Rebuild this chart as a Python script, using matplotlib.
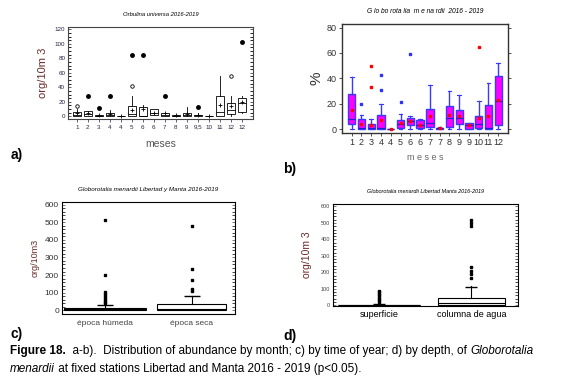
import matplotlib
matplotlib.use("Agg")
import matplotlib.pyplot as plt

plt.rcParams['font.family'] = ['Liberation Sans', 'DejaVu Sans']

# ---- panel a: Orbulina universa by month (org/10m3)
a_labels = ['1', '2', '3', '4', '4', '5', '6', '6', '7', '8', '9', '9,5', '10', '11', '12', '12']
a_lo   = [0, 0, 0, 0, 0, 0, 0, 2, 0, 0, 0, 0, 0, 0, 0, 4]
a_q1   = [0, 0, 0, 0, 0, 0, 0, 2, 0, 0, 0, 0, 0, 0, 3, 6]
a_med  = [2, 3, 0, 2, 0, 3, 0, 5, 2, 0.5, 2, 1, 0, 6, 8, 18]
a_q3   = [6, 7, 1, 5, 0, 14, 13, 10, 4, 1, 5, 2, 0, 28, 18, 25]
a_hi   = [10, 7, 1, 8, 0, 28, 16, 10, 5, 1, 13, 5, 0, 56, 28, 28]
a_mean = [4, 4, 1, 3, 0, 9, 10, 5, 4, 1, 3, 2, 0, 15, 14, 20]
a_fl   = [[], [28], [11], [28], [], [85], [85], [], [28], [], [], [13], [], [], [], [103]]
a_open = [[14], [], [], [], [], [42], [], [], [], [], [], [], [], [], [56], []]

# ---- panel b: Globorotalia menardii by month (%)
b_labels = ['1', '2', '3', '4', '4', '5', '6', '6', '7', '7', '8', '9', '9', '10', '11', '12']
b_lo   = [0, 0, 0, 0, 0, 0, 0, 0, 0, 0, 0, 0, 0, 0, 0, 0]
b_q1   = [4, 0, 0, 0, 0, 1, 3, 1, 2, 0, 2, 4, 0, 1, 0, 3]
b_med  = [8, 0.5, 1, 1, 0, 4, 6, 3, 5, 1, 9, 9, 3, 4, 1, 22]
b_q3   = [28, 8, 4, 11, 0, 7, 9, 7, 16, 1, 18, 15, 5, 10, 19, 42]
b_hi   = [41, 11, 8, 20, 0, 12, 10, 8, 35, 2, 30, 27, 5, 22, 36, 52]
b_mean = [15, 4, 3, 7, 0, 5, 6, 3, 10, 1, 11, 10, 3, 9, 10, 23]
b_fl   = [[], [20], [], [31, 43], [], [21], [59], [], [], [], [], [], [], [], [], []]
b_red  = [[], [], [33, 50], [], [], [], [], [], [], [], [], [], [], [65], [], []]

# ---- panel c: by time of year (org/10m3)
c_labels = ['época húmeda', 'época seca']
c_lo   = [0, 0]
c_q1   = [0, 0]
c_med  = [5, 10]
c_q3   = [14, 35]
c_hi   = [22, 83]
c_mean = [30, 80]
c_fl   = [[40, 50, 60, 70, 80, 90, 105, 200, 510], [110, 120, 170, 235, 480]]

# ---- panel d: by depth (org/10m3)
d_labels = ['superficie', 'columna de agua']
d_lo   = [0, 0]
d_q1   = [0, 0]
d_med  = [3, 12]
d_q3   = [5, 46]
d_hi   = [12, 120]
d_mean = [10, 110]
d_fl   = [[20, 30, 40, 50, 60, 70, 80, 90], [165, 190, 210, 235, 480, 500, 520]]


def box_stats(lo, q1, med, q3, hi, mean, fl):
    return [dict(whislo=lo[i], q1=q1[i], med=med[i], q3=q3[i], whishi=hi[i],
                 mean=mean[i], fliers=fl[i]) for i in range(len(lo))]


fig = plt.figure(figsize=(5.67, 3.83), dpi=100)

# ---------------- a)
ax = fig.add_axes([0.120, 0.689, 0.326, 0.240])
pos = list(range(1, len(a_labels) + 1))
ax.bxp(box_stats(a_lo, a_q1, a_med, a_q3, a_hi, a_mean, a_fl), positions=pos, widths=0.75,
       patch_artist=True, showmeans=True, showcaps=False,
       boxprops=dict(facecolor='white', edgecolor='black', linewidth=0.6),
       medianprops=dict(color='black', linewidth=0.6),
       whiskerprops=dict(color='black', linewidth=0.6),
       meanprops=dict(marker='+', markeredgecolor='black', markersize=3, markeredgewidth=0.6),
       flierprops=dict(marker='o', markerfacecolor='black', markeredgecolor='black', markersize=2.5))
for i, vals in enumerate(a_open):
    ax.plot([pos[i]] * len(vals), vals, 'o', mfc='white', mec='black', ms=2.5, mew=0.6)
ax.set_xlim(0.2, 17)
ax.set_ylim(-4, 123)
ax.set_yticks(range(0, 121, 20))
ax.set_xticks(pos)
ax.set_xticklabels(a_labels)
ax.tick_params(labelsize=4.5, length=2, width=0.5, colors='#222244', direction='out', pad=2)
ax.tick_params(axis='y', which='both', right=True, direction='in')
ax.minorticks_on()
ax.tick_params(axis='x', which='minor', bottom=False)
for s in ax.spines.values():
    s.set_linewidth(0.8)
    s.set_color('#444444')
ax.set_title('Orbulina universa 2016-2019', fontsize=4.2, style='italic', pad=8)
ax.set_ylabel('org/10m 3', fontsize=8, color='#6b2a2a', labelpad=5)
ax.set_xlabel('meses', fontsize=7.5, color='#555555', labelpad=7)
fig.text(0.018, 0.585, 'a)', fontsize=10, fontweight='bold')

# ---------------- b)
ax = fig.add_axes([0.603, 0.653, 0.293, 0.285])
pos = list(range(1, len(b_labels) + 1))
ax.bxp(box_stats(b_lo, b_q1, b_med, b_q3, b_hi, b_mean, b_fl), positions=pos, widths=0.75,
       patch_artist=True, showmeans=True, showcaps=True,
       boxprops=dict(facecolor='#ff00ff', edgecolor='#3a3aff', linewidth=1.0),
       medianprops=dict(color='#2020d0', linewidth=0.9),
       whiskerprops=dict(color='#3a3aff', linewidth=1.0),
       capprops=dict(color='#3a3aff', linewidth=0.8),
       meanprops=dict(marker='s', markerfacecolor='red', markeredgecolor='red', markersize=1.5),
       flierprops=dict(marker='s', markerfacecolor='#3030ff', markeredgecolor='#3030ff', markersize=1.8))
for i, vals in enumerate(b_red):
    ax.plot([pos[i]] * len(vals), vals, 's', mfc='red', mec='red', ms=1.6)
ax.set_xlim(0, 17)
ax.set_ylim(-3, 83)
ax.set_yticks(range(0, 81, 20))
ax.set_xticks(pos)
ax.set_xticklabels(b_labels)
ax.tick_params(labelsize=6.5, length=2, width=0.6, colors='#333333', pad=2)
ax.tick_params(axis='y', right=True)
for s in ax.spines.values():
    s.set_linewidth(1.0)
    s.set_color('#333333')
ax.set_title('G lo bo rota lia  m e na rdii  2016 - 2019', fontsize=4.8, style='italic', pad=8)
ax.set_ylabel('%', fontsize=11, color='#333333', labelpad=2)
ax.set_xlabel('m e s e s', fontsize=6.5, color='#666666', labelpad=4)
fig.text(0.500, 0.548, 'b)', fontsize=10, fontweight='bold')

# ---------------- c)
ax = fig.add_axes([0.109, 0.180, 0.305, 0.292])
ax.bxp(box_stats(c_lo, c_q1, c_med, c_q3, c_hi, c_mean, c_fl), positions=[1, 2], widths=[0.95, 0.8],
       patch_artist=True, showmeans=True, showcaps=False,
       boxprops=dict(edgecolor='black', linewidth=0.8),
       medianprops=dict(color='black', linewidth=0.8),
       whiskerprops=dict(color='black', linewidth=0.8),
       meanprops=dict(marker='_', markeredgecolor='black', markersize=11, markeredgewidth=1.0),
       flierprops=dict(marker='s', markerfacecolor='black', markeredgecolor='black', markersize=1.8))
ax.patches[0].set_facecolor('#d9d9d9')
ax.patches[1].set_facecolor('white')
ax.set_xlim(0.5, 2.5)
ax.set_ylim(-21, 613)
ax.set_yticks(range(0, 601, 100))
ax.set_xticks([1, 2])
ax.set_xticklabels(c_labels)
ax.tick_params(labelsize=6, colors='#444444', pad=2)
ax.tick_params(axis='x', length=0, pad=4)
ax.tick_params(axis='y', which='both', right=True, direction='in', length=2.5, width=0.5, labelcolor='#333333')
ax.minorticks_on()
ax.tick_params(axis='x', which='minor', bottom=False)
for s in ax.spines.values():
    s.set_linewidth(0.8)
ax.set_title('Globorotalia menardii Libertad y Manta 2016-2019', fontsize=4.5, style='italic', pad=8)
ax.set_ylabel('org/10m3', fontsize=6.5, color='#6b2a2a', labelpad=4)
fig.text(0.018, 0.118, 'c)', fontsize=10, fontweight='bold')

# ---------------- d)
ax = fig.add_axes([0.587, 0.201, 0.326, 0.266])
ax.bxp(box_stats(d_lo, d_q1, d_med, d_q3, d_hi, d_mean, d_fl), positions=[1, 2], widths=[0.89, 0.72],
       patch_artist=True, showmeans=True, showcaps=False,
       boxprops=dict(edgecolor='black', linewidth=0.8),
       medianprops=dict(color='black', linewidth=0.8),
       whiskerprops=dict(color='black', linewidth=0.8),
       meanprops=dict(marker='_', markeredgecolor='black', markersize=9, markeredgewidth=1.0),
       flierprops=dict(marker='s', markerfacecolor='black', markeredgecolor='black', markersize=1.8))
ax.patches[0].set_facecolor('black')
ax.patches[1].set_facecolor('white')
ax.set_xlim(0.5, 2.5)
ax.set_ylim(-4, 614)
ax.set_yticks(range(0, 601, 100))
ax.set_xticks([1, 2])
ax.set_xticklabels(d_labels)
ax.tick_params(axis='y', labelsize=4, colors='#444444', pad=2)
ax.tick_params(axis='x', length=0, labelsize=6.5, pad=3)
ax.tick_params(axis='y', which='both', right=True, direction='in', length=2, width=0.5)
ax.minorticks_on()
ax.tick_params(axis='x', which='minor', bottom=False)
for s in ax.spines.values():
    s.set_linewidth(0.8)
ax.set_title('Globorotalia menardii Libertad Manta 2016-2019', fontsize=4, style='italic', pad=8)
ax.set_ylabel('org/10m 3', fontsize=7.5, color='#6b2a2a', labelpad=6)
fig.text(0.499, 0.112, 'd)', fontsize=10, fontweight='bold')

# ---------------- caption (mixed styles)
cap_lines = [
    [('Figure 18.', dict(fontweight='bold')),
     ('  a-b).  Distribution of abundance by month; c) by time of year; d) by depth, of ', {}),
     ('Globorotalia', dict(style='italic'))],
    [('menardii', dict(style='italic')),
     (' at fixed stations Libertad and Manta 2016 - 2019 (p<0.05).', {})],
]
fig.canvas.draw()
renderer = fig.canvas.get_renderer()
W = fig.bbox.width
for row, y in zip(cap_lines, [0.075, 0.030]):
    x = 0.018
    for txt, kw in row:
        t = fig.text(x, y, txt, fontsize=8.5, va='baseline', **kw)
        x += t.get_window_extent(renderer).width / W

fig.savefig('out.png', dpi=100)
